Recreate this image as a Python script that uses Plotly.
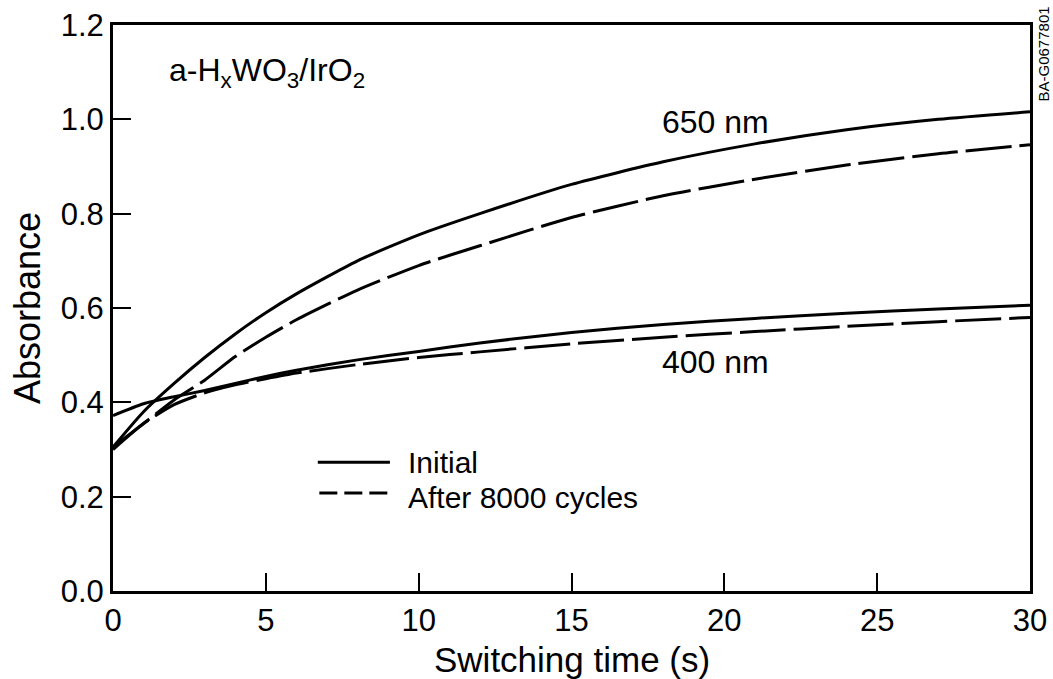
import plotly.graph_objects as go

# Switching time (s)
time_s = [0, 1, 2, 3, 4, 5, 6, 8, 10, 12, 15, 18, 21, 24, 27, 30]

# Absorbance values
abs_650_initial = [0.305, 0.38, 0.44, 0.495, 0.545, 0.59, 0.63, 0.70, 0.755, 0.80,
                   0.862, 0.91, 0.948, 0.978, 1.0, 1.016]
abs_650_after = [0.305, 0.355, 0.405, 0.447, 0.497, 0.538, 0.575, 0.638, 0.69, 0.732,
                 0.792, 0.838, 0.873, 0.903, 0.927, 0.946]
abs_400_initial = [0.372, 0.397, 0.412, 0.425, 0.44, 0.455, 0.468, 0.49, 0.508, 0.526,
                   0.548, 0.565, 0.578, 0.589, 0.598, 0.606]
abs_400_after = [0.30, 0.355, 0.395, 0.42, 0.437, 0.45, 0.462, 0.48, 0.495, 0.507,
                 0.524, 0.538, 0.55, 0.561, 0.571, 0.58]

x_ticks = [0, 5, 10, 15, 20, 25, 30]
y_ticks = [0.0, 0.2, 0.4, 0.6, 0.8, 1.0, 1.2]

FONT = "Liberation Sans, Arial, sans-serif"
LW = 3
DASH = "46px,8px"
TXT = 32
TICK = 31

fig = go.Figure()
for y, dash, name in [
    (abs_650_initial, "solid", "650 nm initial"),
    (abs_650_after, DASH, "650 nm after 8000 cycles"),
    (abs_400_initial, "solid", "400 nm initial"),
    (abs_400_after, DASH, "400 nm after 8000 cycles"),
]:
    fig.add_trace(go.Scatter(
        x=time_s, y=y, mode="lines", name=name,
        line=dict(color="black", width=LW, dash=dash, shape="spline", smoothing=0.6),
        showlegend=False, cliponaxis=True,
    ))

# legend drawn as in the original figure
fig.add_shape(type="line", xref="x", yref="y", x0=6.7, x1=9.06, y0=0.273, y1=0.273,
              line=dict(color="black", width=LW))
fig.add_shape(type="line", xref="x", yref="y", x0=6.75, x1=9.06, y0=0.208, y1=0.208,
              line=dict(color="black", width=LW, dash="18px,7px"))
fig.add_annotation(x=9.6, y=0.272, xref="x", yref="y", text="Initial", showarrow=False,
                   xanchor="left", yanchor="middle", font=dict(size=30, family=FONT, color="black"))
fig.add_annotation(x=9.6, y=0.198, xref="x", yref="y", text="After 8000 cycles", showarrow=False,
                   xanchor="left", yanchor="middle", font=dict(size=30, family=FONT, color="black"))

# curve labels
fig.add_annotation(x=5.05, y=1.10, xref="x", yref="y",
                   text="a-H<sub>x</sub>WO<sub>3</sub>/IrO<sub>2</sub>", showarrow=False,
                   font=dict(size=TXT, family=FONT, color="black"))
fig.add_annotation(x=19.7, y=0.995, xref="x", yref="y", text="650 nm", showarrow=False,
                   font=dict(size=TXT, family=FONT, color="black"))
fig.add_annotation(x=19.7, y=0.485, xref="x", yref="y", text="400 nm", showarrow=False,
                   font=dict(size=TXT, family=FONT, color="black"))
fig.add_annotation(x=1.0, y=1.0, xref="paper", yref="paper", xshift=13, yshift=20,
                   text="BA-G0677801", showarrow=False, textangle=-90,
                   xanchor="center", yanchor="top",
                   font=dict(size=15, family=FONT, color="black"))

# x axis title
fig.add_annotation(x=0.5, y=0, xref="paper", yref="paper", yshift=-68,
                   text="Switching time (s)", showarrow=False,
                   xanchor="center", yanchor="middle",
                   font=dict(size=35, family=FONT, color="black"))

fig.update_layout(
    width=1053, height=679,
    margin=dict(l=113, r=23, t=25, b=88),
    paper_bgcolor="white", plot_bgcolor="white",
    font=dict(family=FONT, size=TXT, color="black"),
    showlegend=False,
)
fig.update_xaxes(
    range=[0, 30], tickvals=x_ticks, ticktext=[str(v) for v in x_ticks],
    ticks="inside", ticklen=18, tickwidth=2, tickcolor="black",
    showline=True, linewidth=3, linecolor="black", mirror=True,
    showgrid=False, zeroline=False, automargin=False,
    tickfont=dict(size=TICK, family=FONT),
)
fig.update_yaxes(
    range=[0, 1.2], tickvals=y_ticks, ticktext=[f"{v:.1f}" for v in y_ticks],
    ticks="inside", ticklen=18, tickwidth=2, tickcolor="black",
    showline=True, linewidth=3, linecolor="black", mirror=True,
    showgrid=False, zeroline=False, automargin=False,
    tickfont=dict(size=TICK, family=FONT),
    title=dict(text="Absorbance", font=dict(size=36, family=FONT), standoff=10),
)

fig.write_html("out.html")
